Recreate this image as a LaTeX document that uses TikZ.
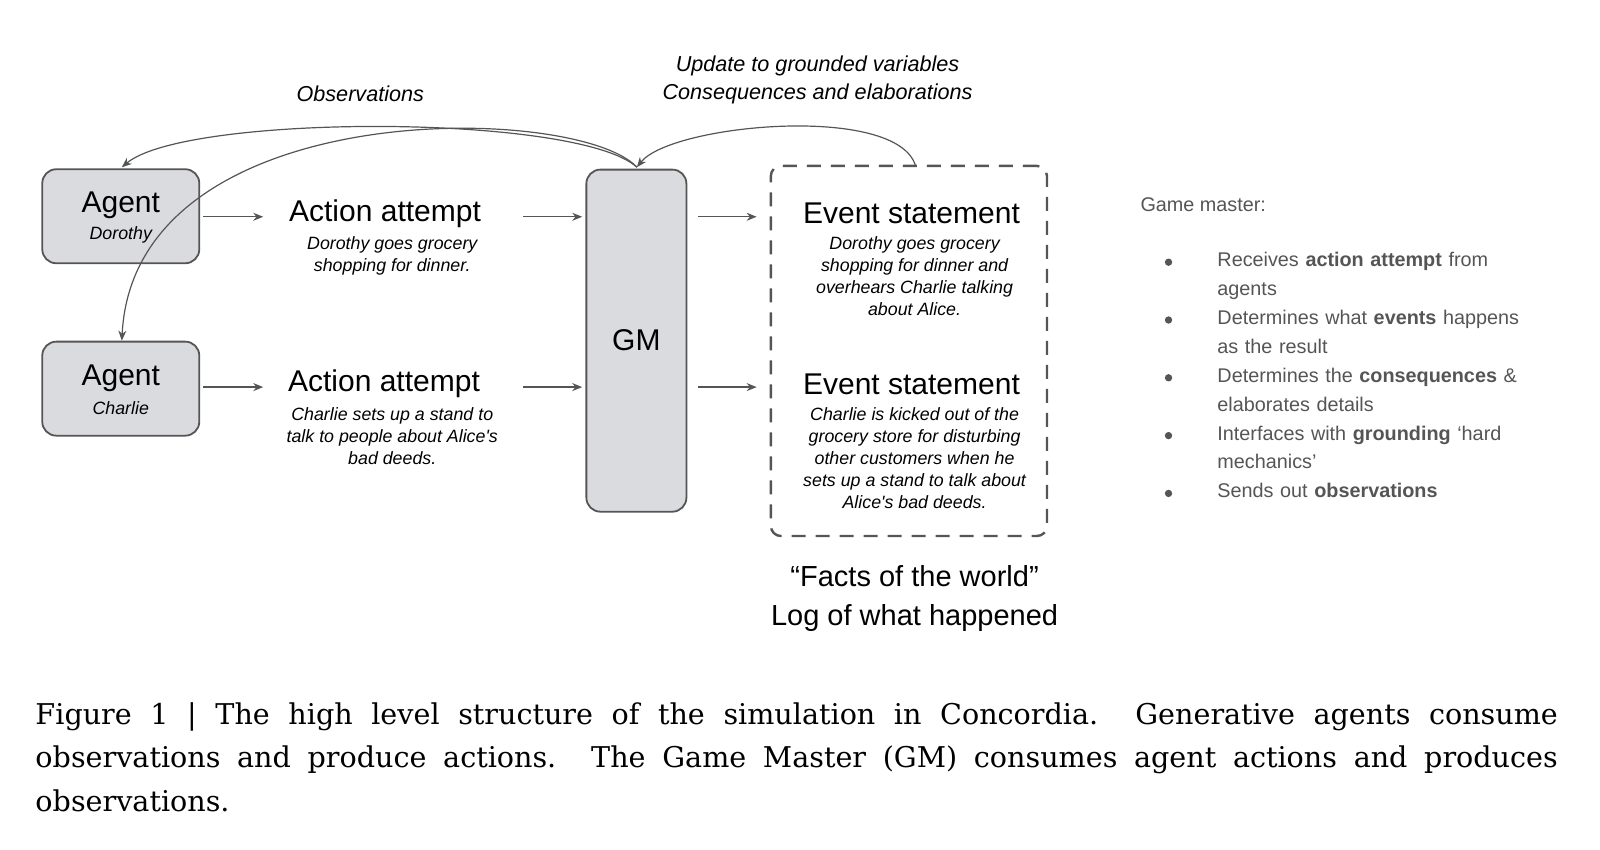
\documentclass[tikz,border=0pt]{standalone}
\usepackage{fontspec}
\setmainfont{DejaVu Serif}
\newfontfamily\arialf{Liberation Sans}
\usetikzlibrary{arrows.meta}
\definecolor{boxfill}{HTML}{D9DBDF}
\definecolor{boxline}{HTML}{555555}
\definecolor{txtgray}{HTML}{555555}
\begin{document}
\begin{tikzpicture}[x=0.516pt,y=-0.516pt,
  box/.style={draw=boxline,fill=boxfill,rounded corners=7pt,line width=0.9pt},
  arr/.style={-{Stealth[length=5pt,width=4pt]},draw=boxline,line width=0.6pt},
  title/.style={font=\arialf\fontsize{15}{16}\selectfont,inner sep=0},
  desc/.style={font=\arialf\itshape\fontsize{8.9}{11}\selectfont,align=center,inner sep=0,anchor=north},
  item/.style={font=\arialf\fontsize{9.9}{14.4}\selectfont,text=txtgray,anchor=north west,inner sep=0,text width=158pt,align=left},
  dot/.style={circle,fill=txtgray,inner sep=1.3pt}]
\useasboundingbox (0,0) rectangle (1550,823.4);
% agents
\node[box,minimum width=78.5pt,minimum height=47pt] (dor) at (117,209.5) {};
\node[title] at (117,199) {Agent};
\node[font=\arialf\itshape\fontsize{8.9}{10}\selectfont] at (117,228) {Dorothy};
\node[box,minimum width=78.5pt,minimum height=47pt] (cha) at (117,376.5) {};
\node[title] at (117,366) {Agent};
\node[font=\arialf\itshape\fontsize{8.9}{10}\selectfont] at (117,395) {Charlie};
% GM
\node[box,minimum width=50pt,minimum height=171pt] (gm) at (616.5,330) {};
\node[title] at (616.5,330) {GM};
% dashed box
\node[draw=boxline,dashed,dash pattern=on 7pt off 5pt,line width=1.2pt,rounded corners=5pt,minimum width=138pt,minimum height=185pt] (ev) at (880.5,340) {};
% action attempts
\node[title] (a1) at (373,207) {Action attempt};
\node[desc] at (380,229) {Dorothy goes grocery\\shopping for dinner.};
\node[title] (a2) at (372,372) {Action attempt};
\node[desc] at (380,394) {Charlie sets up a stand to\\talk to people about Alice's\\bad deeds.};
\node[title] (e1) at (883,207) {Event statement};
\node[desc] at (886,229) {Dorothy goes grocery\\shopping for dinner and\\overhears Charlie talking\\about Alice.};
\node[title] (e2) at (883,372) {Event statement};
\node[desc] at (886,394) {Charlie is kicked out of the\\grocery store for disturbing\\other customers when he\\sets up a stand to talk about\\Alice's bad deeds.};
% straight arrows
\coordinate (p1) at (197,210); \coordinate (p2) at (255,210);
\coordinate (p3) at (507,210); \coordinate (p4) at (564,210);
\coordinate (p5) at (676,210); \coordinate (p6) at (733,210);
\coordinate (q1) at (197,375); \coordinate (q2) at (255,375);
\coordinate (q3) at (507,375); \coordinate (q4) at (564,375);
\coordinate (q5) at (676,375); \coordinate (q6) at (733,375);
\draw[arr] (p1)--(p2); \draw[arr] (p3)--(p4); \draw[arr] (p5)--(p6);
\draw[arr] (q1)--(q2); \draw[arr] (q3)--(q4); \draw[arr] (q5)--(q6);
% curves
\coordinate (gmt) at (617,162);
\draw[arr] (gmt) .. controls (560,110) and (180,110) .. (118,162);
\draw[arr] (gmt) .. controls (560,100) and (130,90) .. (118,330);
\draw[arr] (887,161) .. controls (870,100) and (650,120) .. (gmt);
% labels
\node[font=\arialf\itshape\fontsize{10.8}{12}\selectfont] at (349,91) {Observations};
\node[font=\arialf\itshape\fontsize{10.8}{14}\selectfont,align=center] at (792,77) {Update to grounded variables\\Consequences and elaborations};
\node[font=\arialf\fontsize{14.5}{19.5}\selectfont,align=center] at (886,580) {“Facts of the world”\\Log of what happened};
% right panel
\node[font=\arialf\fontsize{9.9}{12}\selectfont,text=txtgray,anchor=west] at (1098,198) {Game master:};
\foreach \y/\t in {244/{Receives \textbf{action attempt} from\\agents},300/{Determines what \textbf{events} happens\\as the result},356/{Determines the \textbf{consequences} \&\\elaborates details},412/{Interfaces with \textbf{grounding} ‘hard\\mechanics’},468/{Sends out \textbf{observations}}}{
  \node[dot] at (1132,\y+10) {};
  \node[item] at (1179,\y) {\t};
}
% caption
\node[anchor=north west,inner sep=0,text width=761pt,align=justify,font=\fontsize{14.3}{21.8}\selectfont] at (34,680) {Figure 1 | The high level structure of the simulation in Concordia.\ \ Generative agents consume\linebreak observations and produce actions. The Game Master (GM) consumes agent actions and produces\linebreak observations.};
\end{tikzpicture}
\end{document}
